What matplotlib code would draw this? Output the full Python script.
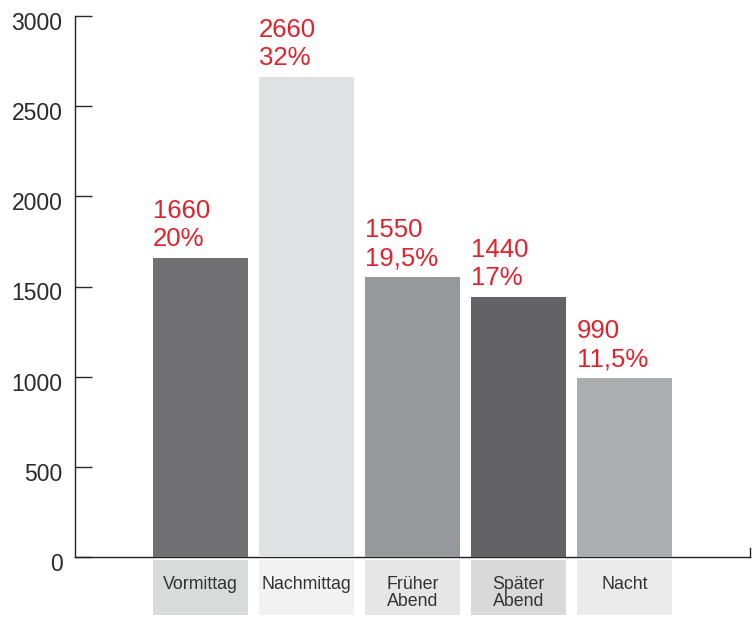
import matplotlib.pyplot as plt
import matplotlib.transforms as mtransforms

plt.rcParams['font.family'] = ['Liberation Sans', 'DejaVu Sans']

# Daten
kategorien = ['Vormittag', 'Nachmittag', 'Früher\nAbend', 'Später\nAbend', 'Nacht']
werte = [1660, 2660, 1550, 1440, 990]
anteile = ['20%', '32%', '19,5%', '17%', '11,5%']
balken_farben = ['#707072', '#e0e1e3', '#97989b', '#636367', '#acadaf']
feld_farben = ['#d9dada', '#f1f2f1', '#e6e6e6', '#d9d9d9', '#ebebeb']
y_ticks = [0, 500, 1000, 1500, 2000, 2500, 3000]

fig = plt.figure(figsize=(7.55, 6.17), dpi=100)
ax = fig.add_axes([75 / 755, 60 / 617, 675 / 755, 541 / 617])

x = list(range(len(werte)))
breite = 0.896

# Beschriftungsfelder unter der Achse
ax.bar(x, [305] * len(x), bottom=-322, width=breite, color=feld_farben,
       clip_on=False, zorder=3)
ax.bar(x, werte, width=breite, color=balken_farben, zorder=3)

for xi, w, a in zip(x, werte, anteile):
    ax.annotate(f'{w}\n{a}', (xi - breite / 2, w), xytext=(0, 5),
                textcoords='offset points', ha='left', va='bottom',
                fontsize=18.5, color='#e3212b', linespacing=1.22)

for xi, k in zip(x, kategorien):
    ax.annotate(k, (xi, 0), xytext=(0, -13.5), textcoords='offset points',
                ha='center', va='top', fontsize=12.8, color='#333333',
                linespacing=1.0, annotation_clip=False)

ax.set_xlim(-1.184, 5.184)
ax.set_ylim(0, 3000)
ax.set_yticks(y_ticks)
ax.set_xticks([])

ax.spines['top'].set_visible(False)
ax.spines['right'].set_bounds(0, 50)
for s in ['left', 'bottom', 'right']:
    ax.spines[s].set_linewidth(1.0)
    ax.spines[s].set_color('#222222')
    ax.spines[s].set_zorder(2)

ax.tick_params(axis='y', direction='in', length=12, width=1.0, pad=9,
               labelsize=16.5, colors='#2a2a2a')

verschiebung = mtransforms.ScaledTranslation(0, -5 / 100, fig.dpi_scale_trans)
for lbl in ax.get_yticklabels():
    lbl.set_transform(lbl.get_transform() + verschiebung)

fig.savefig('out.png', dpi=100)
